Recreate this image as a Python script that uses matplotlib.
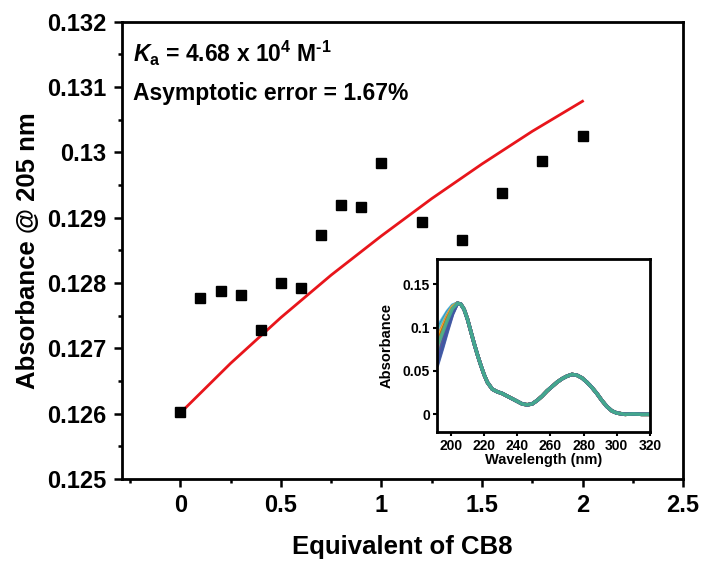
import matplotlib
matplotlib.use("Agg")
import matplotlib.pyplot as plt
from matplotlib.ticker import MultipleLocator, FuncFormatter

plt.rcParams['font.family'] = ['Liberation Sans', 'DejaVu Sans']
plt.rcParams['font.weight'] = 'bold'
plt.rcParams['mathtext.fontset'] = 'custom'
plt.rcParams['mathtext.rm'] = 'Liberation Sans:bold'
plt.rcParams['mathtext.bf'] = 'Liberation Sans:bold'
plt.rcParams['mathtext.it'] = 'Liberation Sans:italic:bold'

# ---- main data ----
equiv = [0, 0.1, 0.2, 0.3, 0.4, 0.5, 0.6, 0.7, 0.8, 0.9, 1.0, 1.2, 1.4, 1.6, 1.8, 2.0]
absorb = [0.12602, 0.12777, 0.12788, 0.12782, 0.12728, 0.12800, 0.12793, 0.12874,
          0.12919, 0.12916, 0.12983, 0.12893, 0.12865, 0.12937, 0.12987, 0.13025]

fit_x = [0, 0.25, 0.5, 0.75, 1.0, 1.25, 1.5, 1.75, 2.0]
fit_y = [0.12601, 0.12677, 0.12747, 0.12812, 0.12872, 0.12929, 0.12982, 0.13032, 0.13078]

# ---- inset data ----
wl_head = [192, 195, 198, 201]
a_head = [
    [0.101, 0.110, 0.119, 0.126],
    [0.098, 0.108, 0.118, 0.125],
    [0.095, 0.106, 0.116, 0.125],
    [0.092, 0.103, 0.115, 0.124],
    [0.089, 0.101, 0.114, 0.124],
    [0.086, 0.099, 0.112, 0.123],
    [0.083, 0.097, 0.111, 0.122],
    [0.077, 0.092, 0.108, 0.121],
    [0.074, 0.090, 0.106, 0.120],
    [0.071, 0.088, 0.105, 0.120],
    [0.068, 0.085, 0.103, 0.119],
    [0.065, 0.083, 0.102, 0.118],
    [0.062, 0.081, 0.100, 0.117],
    [0.059, 0.078, 0.098, 0.116],
    [0.057, 0.076, 0.096, 0.115],
    [0.080, 0.094, 0.109, 0.122],
]
curve_colors = ['#5BC0EB', '#2E86C1', '#48C9B0', '#85C1E9', '#E67E22', '#F4D03F',
                '#D35400', '#B7950B', '#F5B041', '#E59866', '#A569BD', '#5D6D7E',
                '#2874A6', '#7D3C98', '#3B5BA5', '#45B08C']
wl_tail = [204, 206, 208, 210, 212, 214, 216, 218, 220, 222, 225, 228, 231, 234, 237,
           240, 243, 246, 249, 252, 255, 258, 261, 264, 267, 270, 273, 276, 279, 282,
           285, 288, 291, 294, 297, 300, 305, 310, 315, 320]
a_tail = [0.128, 0.127, 0.121, 0.110, 0.096, 0.082, 0.069, 0.057, 0.046, 0.037, 0.029,
          0.026, 0.024, 0.021, 0.018, 0.015, 0.012, 0.011, 0.012, 0.016, 0.021, 0.027,
          0.032, 0.037, 0.041, 0.044, 0.046, 0.045, 0.042, 0.037, 0.031, 0.024, 0.016,
          0.009, 0.004, 0.0015, 0.0, 0.0005, 0.0, 0.0]

fig = plt.figure(figsize=(7.02, 5.62), dpi=100)
ax = fig.add_axes([0.1738, 0.1477, 0.7992, 0.814])

ax.plot(fit_x, fit_y, color='#E8151B', lw=2.0, zorder=2)
ax.plot(equiv, absorb, 's', color='black', ms=7.5, zorder=3)

ax.set_xlim(-0.29, 2.5)
ax.set_ylim(0.125, 0.132)
ax.xaxis.set_major_locator(MultipleLocator(0.5))
ax.xaxis.set_minor_locator(MultipleLocator(0.25))
ax.yaxis.set_major_locator(MultipleLocator(0.001))
ax.yaxis.set_minor_locator(MultipleLocator(0.0005))
fmt = FuncFormatter(lambda v, p: ('%.4f' % v).rstrip('0').rstrip('.') if abs(v) > 1e-12 else '0')
ax.xaxis.set_major_formatter(FuncFormatter(lambda v, p: ('%.2f' % v).rstrip('0').rstrip('.') if abs(v) > 1e-12 else '0'))
ax.yaxis.set_major_formatter(fmt)
ax.tick_params(which='major', direction='out', length=6, width=1.8, labelsize=17, pad=5)
ax.tick_params(which='minor', direction='out', length=3, width=1.8)
ax.tick_params(top=False, right=False, which='both')
for s in ax.spines.values():
    s.set_linewidth(2.0)
for lab in ax.get_xticklabels() + ax.get_yticklabels():
    lab.set_fontweight('bold')
ax.set_xlabel('Equivalent of CB8', fontsize=18.5, fontweight='bold', labelpad=13)
ax.set_ylabel('Absorbance @ 205 nm', fontsize=18.5, fontweight='bold', labelpad=5)

fig.text(133/702, 1 - 61.7/562, r'$K_{\rm a}$ = 4.68 x 10$^{\rm 4}$ M$^{\text{-1}}$',
         fontsize=16.5, fontweight='bold', va='baseline', ha='left')
fig.text(133/702, 1 - 100/562, 'Asymptotic error = 1.67%',
         fontsize=16.5, fontweight='bold', va='baseline', ha='left')

# ---- inset ----
ins = fig.add_axes([436.7/702, 1 - 431.7/562, (650 - 436.7)/702, (431.7 - 259)/562])
for head, col in zip(a_head, curve_colors):
    ins.plot(wl_head + wl_tail, head + a_tail, color=col, lw=2.5, alpha=0.9)
ins.set_xlim(191.5, 320)
ins.set_ylim(-0.02, 0.179)
ins.xaxis.set_major_locator(MultipleLocator(20))
ins.yaxis.set_major_locator(MultipleLocator(0.05))
ins.yaxis.set_major_formatter(FuncFormatter(lambda v, p: ('%.3f' % v).rstrip('0').rstrip('.') if abs(v) > 1e-12 else '0'))
ins.tick_params(direction='out', length=3, width=1.5, labelsize=10, pad=2)
for lab in ins.get_xticklabels() + ins.get_yticklabels():
    lab.set_fontweight('bold')
for s in ins.spines.values():
    s.set_linewidth(2.0)
ins.set_xlabel('Wavelength (nm)', fontsize=10.5, fontweight='bold', labelpad=0)
ins.set_ylabel('Absorbance', fontsize=10.5, fontweight='bold')
ins.yaxis.set_label_coords(-0.2, 0.5)

fig.savefig('out.png', dpi=100)
